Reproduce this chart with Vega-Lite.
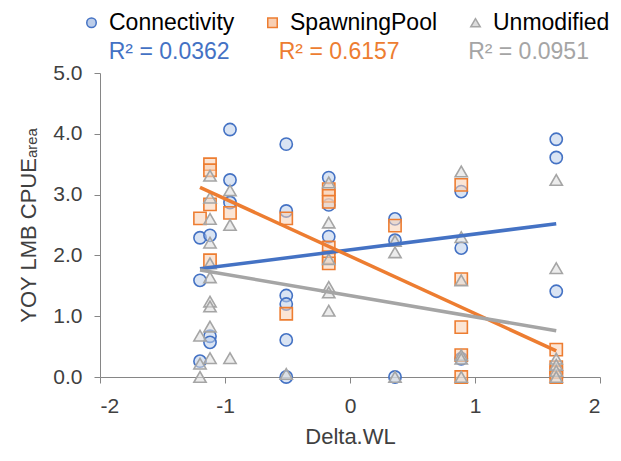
{
  "$schema": "https://vega.github.io/schema/vega-lite/v6.json",
  "autosize": {"type": "none"},
  "padding": {"left": 100, "top": 73, "right": 21, "bottom": 84},
  "width": 500,
  "height": 304,
  "background": "white",
  "config": {
    "font": "Liberation Sans",
    "view": {"stroke": null},
    "axis": {
      "grid": false,
      "domainColor": "#868686",
      "tickColor": "#868686",
      "tickSize": 6,
      "labelFontSize": 21,
      "labelColor": "#404040",
      "titleFontSize": 22,
      "titleFontWeight": "normal",
      "titleColor": "#404040",
      "labelFont": "Liberation Sans",
      "titleFont": "Liberation Sans"
    },
    "legend": {"labelFont": "Liberation Sans"}
  },
  "datasets": {
    "points": [
      {"series": "Connectivity", "x": -1.2, "y": 2.29},
      {"series": "Connectivity", "x": -1.2, "y": 1.59},
      {"series": "Connectivity", "x": -1.2, "y": 0.26},
      {"series": "Connectivity", "x": -1.12, "y": 2.33},
      {"series": "Connectivity", "x": -1.12, "y": 0.67},
      {"series": "Connectivity", "x": -1.12, "y": 0.57},
      {"series": "Connectivity", "x": -0.96, "y": 4.07},
      {"series": "Connectivity", "x": -0.96, "y": 3.24},
      {"series": "Connectivity", "x": -0.96, "y": 2.87},
      {"series": "Connectivity", "x": -0.51, "y": 3.83},
      {"series": "Connectivity", "x": -0.51, "y": 2.73},
      {"series": "Connectivity", "x": -0.51, "y": 1.34},
      {"series": "Connectivity", "x": -0.51, "y": 1.2},
      {"series": "Connectivity", "x": -0.51, "y": 0.61},
      {"series": "Connectivity", "x": -0.51, "y": 0.0},
      {"series": "Connectivity", "x": -0.17, "y": 3.28},
      {"series": "Connectivity", "x": -0.17, "y": 2.83},
      {"series": "Connectivity", "x": -0.17, "y": 2.31},
      {"series": "Connectivity", "x": 0.36, "y": 2.6},
      {"series": "Connectivity", "x": 0.36, "y": 2.25},
      {"series": "Connectivity", "x": 0.36, "y": 0.0},
      {"series": "Connectivity", "x": 0.89, "y": 3.05},
      {"series": "Connectivity", "x": 0.89, "y": 2.12},
      {"series": "Connectivity", "x": 0.89, "y": 0.3},
      {"series": "Connectivity", "x": 1.65, "y": 3.91},
      {"series": "Connectivity", "x": 1.65, "y": 3.61},
      {"series": "Connectivity", "x": 1.65, "y": 1.41},
      {"series": "SpawningPool", "x": -1.2, "y": 2.61},
      {"series": "SpawningPool", "x": -1.12, "y": 3.5},
      {"series": "SpawningPool", "x": -1.12, "y": 3.4},
      {"series": "SpawningPool", "x": -1.12, "y": 2.84},
      {"series": "SpawningPool", "x": -1.12, "y": 1.92},
      {"series": "SpawningPool", "x": -0.96, "y": 2.7},
      {"series": "SpawningPool", "x": -0.51, "y": 2.61},
      {"series": "SpawningPool", "x": -0.51, "y": 1.04},
      {"series": "SpawningPool", "x": -0.17, "y": 3.09},
      {"series": "SpawningPool", "x": -0.17, "y": 2.98},
      {"series": "SpawningPool", "x": -0.17, "y": 2.88},
      {"series": "SpawningPool", "x": -0.17, "y": 2.13},
      {"series": "SpawningPool", "x": -0.17, "y": 1.97},
      {"series": "SpawningPool", "x": -0.17, "y": 1.87},
      {"series": "SpawningPool", "x": 0.36, "y": 2.49},
      {"series": "SpawningPool", "x": 0.89, "y": 3.16},
      {"series": "SpawningPool", "x": 0.89, "y": 1.61},
      {"series": "SpawningPool", "x": 0.89, "y": 0.82},
      {"series": "SpawningPool", "x": 0.89, "y": 0.36},
      {"series": "SpawningPool", "x": 0.89, "y": 0.0},
      {"series": "SpawningPool", "x": 1.65, "y": 0.45},
      {"series": "SpawningPool", "x": 1.65, "y": 0.16},
      {"series": "SpawningPool", "x": 1.65, "y": 0.08},
      {"series": "SpawningPool", "x": 1.65, "y": 0.0},
      {"series": "Unmodified", "x": -1.2, "y": 0.68},
      {"series": "Unmodified", "x": -1.2, "y": 0.22},
      {"series": "Unmodified", "x": -1.2, "y": 0.0},
      {"series": "Unmodified", "x": -1.12, "y": 3.31},
      {"series": "Unmodified", "x": -1.12, "y": 2.95},
      {"series": "Unmodified", "x": -1.12, "y": 2.6},
      {"series": "Unmodified", "x": -1.12, "y": 2.21},
      {"series": "Unmodified", "x": -1.12, "y": 1.87},
      {"series": "Unmodified", "x": -1.12, "y": 1.64},
      {"series": "Unmodified", "x": -1.12, "y": 1.24},
      {"series": "Unmodified", "x": -1.12, "y": 1.16},
      {"series": "Unmodified", "x": -1.12, "y": 0.83},
      {"series": "Unmodified", "x": -1.12, "y": 0.31},
      {"series": "Unmodified", "x": -0.96, "y": 3.07},
      {"series": "Unmodified", "x": -0.96, "y": 2.5},
      {"series": "Unmodified", "x": -0.96, "y": 0.31},
      {"series": "Unmodified", "x": -0.51, "y": 0.05},
      {"series": "Unmodified", "x": -0.17, "y": 3.2},
      {"series": "Unmodified", "x": -0.17, "y": 2.54},
      {"series": "Unmodified", "x": -0.17, "y": 1.94},
      {"series": "Unmodified", "x": -0.17, "y": 1.48},
      {"series": "Unmodified", "x": -0.17, "y": 1.39},
      {"series": "Unmodified", "x": -0.17, "y": 1.09},
      {"series": "Unmodified", "x": 0.36, "y": 2.24},
      {"series": "Unmodified", "x": 0.36, "y": 2.05},
      {"series": "Unmodified", "x": 0.36, "y": 0.0},
      {"series": "Unmodified", "x": 0.89, "y": 3.38},
      {"series": "Unmodified", "x": 0.89, "y": 2.3},
      {"series": "Unmodified", "x": 0.89, "y": 1.59},
      {"series": "Unmodified", "x": 0.89, "y": 0.36},
      {"series": "Unmodified", "x": 0.89, "y": 0.3},
      {"series": "Unmodified", "x": 0.89, "y": 0.0},
      {"series": "Unmodified", "x": 1.65, "y": 3.24},
      {"series": "Unmodified", "x": 1.65, "y": 1.79},
      {"series": "Unmodified", "x": 1.65, "y": 0.3},
      {"series": "Unmodified", "x": 1.65, "y": 0.2},
      {"series": "Unmodified", "x": 1.65, "y": 0.1},
      {"series": "Unmodified", "x": 1.65, "y": 0.0}
    ],
    "trends": [
      {"series": "Connectivity", "x": -1.2, "y": 1.78},
      {"series": "Connectivity", "x": 1.65, "y": 2.52},
      {"series": "SpawningPool", "x": -1.2, "y": 3.12},
      {"series": "SpawningPool", "x": 1.65, "y": 0.43},
      {"series": "Unmodified", "x": -1.2, "y": 1.76},
      {"series": "Unmodified", "x": 1.65, "y": 0.76}
    ]
  },
  "layer": [
    {
      "data": {"name": "points"},
      "mark": {"type": "point", "filled": true, "fillOpacity": 0.55, "strokeWidth": 1.6, "size": 150, "opacity": 1},
      "encoding": {
        "x": {
          "field": "x", "type": "quantitative",
          "scale": {"domain": [-2, 2], "nice": false, "zero": false},
          "axis": {"values": [-2, -1, 0, 1, 2], "labelExpr": "'' + datum.value", "title": "Delta.WL", "labelPadding": 12, "titlePadding": 10}
        },
        "y": {
          "field": "y", "type": "quantitative",
          "scale": {"domain": [0, 5], "nice": false},
          "axis": {"values": [0, 1, 2, 3, 4, 5], "format": ".1f", "title": "YOY LMB CPUEₐᵣₑₐ", "labelPadding": 12, "titlePadding": 12}
        },
        "fill": {
          "field": "series", "type": "nominal",
          "scale": {"domain": ["Connectivity", "SpawningPool", "Unmodified"], "range": ["#bccde9", "#f8cfb3", "#dcdcdc"]},
          "legend": {
            "orient": "none", "direction": "horizontal", "legendX": -20, "legendY": -62,
            "title": null, "labelFontSize": 23, "labelColor": "#000000", "symbolSize": 90,
            "symbolStrokeWidth": 1.5, "columnPadding": 26, "labelOffset": 6
          }
        },
        "stroke": {
          "field": "series", "type": "nominal",
          "scale": {"domain": ["Connectivity", "SpawningPool", "Unmodified"], "range": ["#4472C4", "#ED7D31", "#A5A5A5"]}
        },
        "shape": {
          "field": "series", "type": "nominal",
          "scale": {"domain": ["Connectivity", "SpawningPool", "Unmodified"], "range": ["circle", "square", "triangle-up"]}
        }
      }
    },
    {
      "data": {"name": "trends"},
      "mark": {"type": "line", "strokeWidth": 3.5},
      "encoding": {
        "x": {"field": "x", "type": "quantitative"},
        "y": {"field": "y", "type": "quantitative"},
        "stroke": {"field": "series", "type": "nominal", "legend": null}
      }
    },
    {
      "data": {"values": [{"series": "Connectivity", "label": "R² = 0.0362"}]},
      "mark": {"type": "text", "align": "left", "baseline": "middle", "fontSize": 23, "color": "#4472C4"},
      "encoding": {
        "x": {"datum": -1.93},
        "y": {"datum": 5.34},
        "text": {"field": "label"}
      }
    },
    {
      "data": {"values": [{"series": "SpawningPool", "label": "R² = 0.6157"}]},
      "mark": {"type": "text", "align": "left", "baseline": "middle", "fontSize": 23, "color": "#ED7D31"},
      "encoding": {
        "x": {"datum": -0.57},
        "y": {"datum": 5.34},
        "text": {"field": "label"}
      }
    },
    {
      "data": {"values": [{"series": "Unmodified", "label": "R² = 0.0951"}]},
      "mark": {"type": "text", "align": "left", "baseline": "middle", "fontSize": 23, "color": "#A5A5A5"},
      "encoding": {
        "x": {"datum": 0.945},
        "y": {"datum": 5.34},
        "text": {"field": "label"}
      }
    }
  ]
}
